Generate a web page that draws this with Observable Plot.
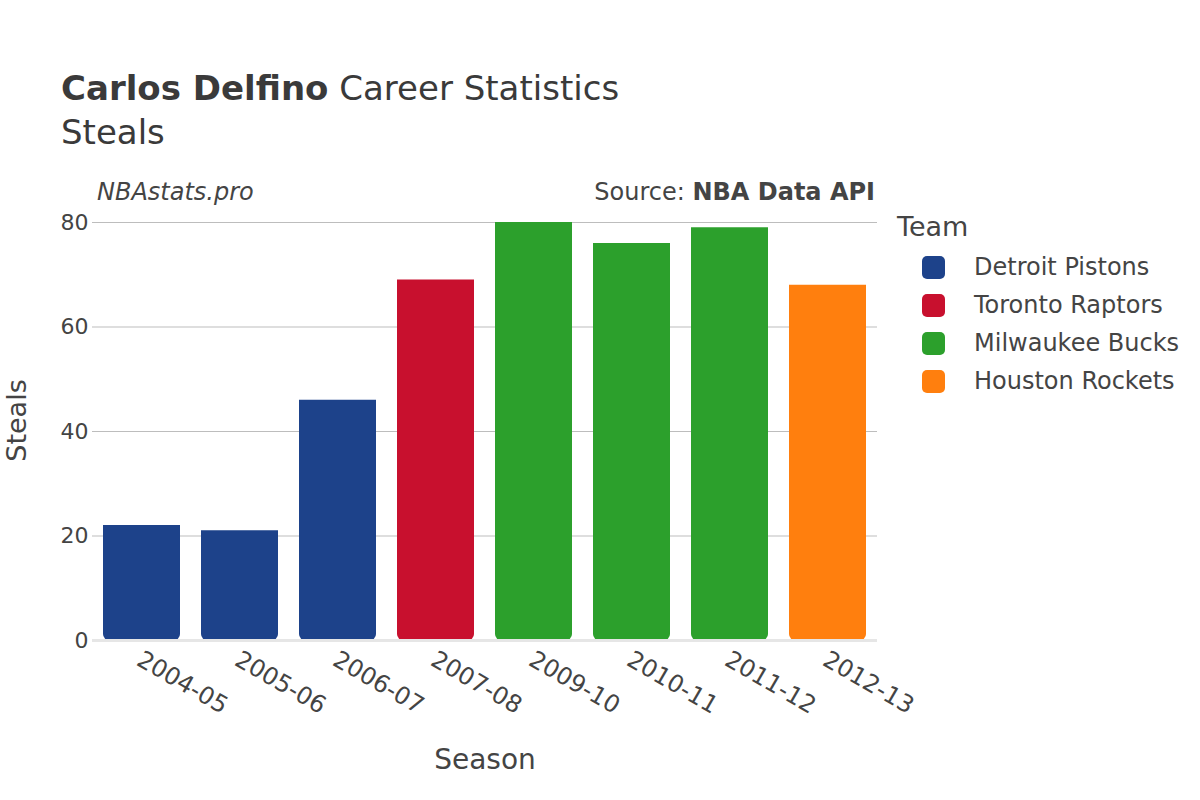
<!DOCTYPE html>
<html>
<head>
<meta charset="utf-8">
<script src="https://cdn.jsdelivr.net/npm/d3@7"></script>
<script src="https://cdn.jsdelivr.net/npm/@observablehq/plot@0.6"></script>
<style>
  body { margin: 0; background: #fff; font-family: "DejaVu Sans", sans-serif; }
  #wrap { position: relative; width: 1200px; height: 800px; overflow: hidden; }
  .t { position: absolute; white-space: nowrap; color: #444; }
  #chart { position: absolute; left: 0; top: 0; }
</style>
</head>
<body>
<div id="wrap">
  <div id="chart"></div>
  <div class="t" style="left:61px; top:68px; font-size:34px; color:#3a3a3a;"><b>Carlos Delfino</b> Career Statistics</div>
  <div class="t" style="left:61px; top:112px; font-size:34px; color:#3a3a3a;">Steals</div>
  <div class="t" style="left:97px; top:178px; font-size:24px; font-style:italic;">NBAstats.pro</div>
  <div class="t" style="right:325px; top:178px; font-size:24px;">Source: <b>NBA Data API</b></div>
  <div id="legend" class="t" style="left:897px; top:211px;"></div>
</div>
<script>
const seasons = ["2004-05", "2005-06", "2006-07", "2007-08", "2009-10", "2010-11", "2011-12", "2012-13"];
const steals = [22, 21, 46, 69, 80, 76, 79, 68];
const teams = ["Detroit Pistons", "Detroit Pistons", "Detroit Pistons", "Toronto Raptors", "Milwaukee Bucks", "Milwaukee Bucks", "Milwaukee Bucks", "Houston Rockets"];
const teamNames = ["Detroit Pistons", "Toronto Raptors", "Milwaukee Bucks", "Houston Rockets"];
const teamColors = ["#1d428a", "#c8102e", "#2ca02c", "#ff7f0e"];
const yTicks = [0, 20, 40, 60, 80];

const data = seasons.map((s, i) => ({season: s, steals: steals[i], team: teams[i]}));

const plot = Plot.plot({
  width: 1200,
  height: 800,
  marginLeft: 92,
  marginRight: 323,
  marginTop: 222,
  marginBottom: 160,
  style: {fontFamily: "DejaVu Sans, sans-serif", fontSize: "20px", color: "#444", background: "transparent"},
  x: {domain: seasons, paddingInner: 0.21, paddingOuter: 0.105, label: null},
  y: {domain: [0, 80], label: null},
  color: {domain: teamNames, range: teamColors},
  marks: [
    Plot.gridY(yTicks.filter(d => d > 0), {stroke: "#bdbdbd", strokeOpacity: 1, strokeWidth: 1}),
    Plot.barY(data, {x: "season", y: "steals", fill: "team", rx1y2: 6, rx2y2: 6}),
    Plot.ruleY([0], {stroke: "#e6e6e6", strokeWidth: 3}),
    Plot.axisY({ticks: yTicks, tickSize: 0, tickPadding: 4, fontSize: 22, label: null}),
    Plot.axisX({tickSize: 0, tickRotate: 30, tickPadding: 17, fontSize: 24, textAnchor: "start", dx: -3, label: null}),
    Plot.text(["Season"], {frameAnchor: "bottom", dx: 0, dy: 128, fontSize: 28, fill: "#444"}),
    Plot.text(["Steals"], {frameAnchor: "left", textAnchor: "middle", dx: -75, dy: -11, rotate: -90, fontSize: 27, fill: "#444"})
  ]
});
document.getElementById("chart").appendChild(plot);

const legend = document.getElementById("legend");
let html = '<div style="font-size:27px; margin-bottom:6px;">Team</div>';
teamNames.forEach((t, i) => {
  html += `<div style="display:flex; align-items:center; height:38px; font-size:24px;">
    <span style="display:inline-block; width:23px; height:23px; border-radius:5px; background:${teamColors[i]}; margin-left:25px; margin-right:29px;"></span>${t}</div>`;
});
legend.innerHTML = html;
</script>
</body>
</html>
